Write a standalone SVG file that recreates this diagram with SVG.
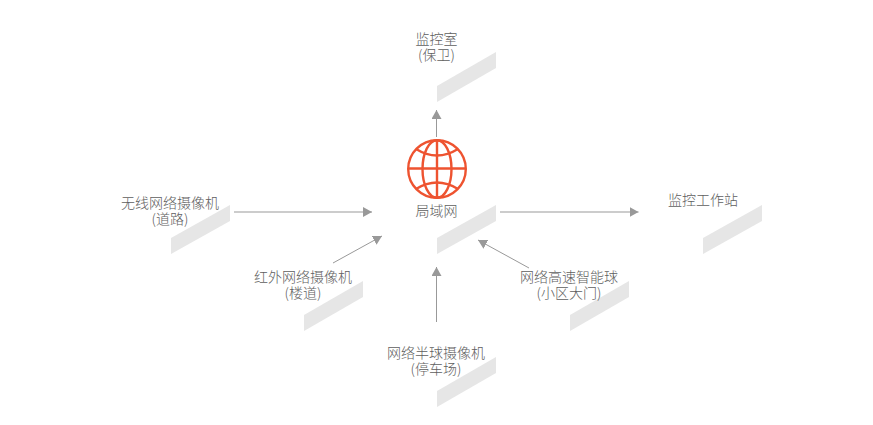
<svg xmlns="http://www.w3.org/2000/svg" width="873" height="425" viewBox="0 0 873 425">
<style>
text{font-family:"Noto Sans CJK SC","Liberation Sans",sans-serif;font-size:14px;font-weight:300;fill:#5e5e5e;text-anchor:middle}
.slab{fill:#e6e6e6}
.conn{stroke:#999;stroke-width:1;fill:none;marker-end:url(#arrow)}
.g{stroke:#ee5330;stroke-width:2.4;fill:none}
</style>
<defs>
<marker id="arrow" markerUnits="userSpaceOnUse" markerWidth="10" markerHeight="10" refX="9" refY="5" orient="auto"><path d="M0,0L9,5L0,10Z" fill="#999"/></marker>
</defs>
<rect width="873" height="425" fill="#fff"/>
<g id="connectors">
<path class="conn" d="M436.500 137V110"/>
<path class="conn" d="M234 212H372"/>
<path class="conn" d="M333 263L382 236"/>
<path class="conn" d="M500 212H638.500"/>
<path class="conn" d="M529 268L478 240"/>
<path class="conn" d="M436.500 322V267"/>
</g>
<g id="node-control-room">
<polygon class="slab" points="437,86 496,52 496,68 437,102"/>
<text x="436.500" y="44">监控室</text><text x="436.500" y="60">(保卫)</text>
</g>
<g id="node-lan">
<polygon class="slab" points="437,238 496,205 496,221 437,254"/>
<g class="g">
<circle cx="437" cy="169" r="28.800"/>
<ellipse cx="437" cy="169" rx="14.500" ry="28.800"/>
<path d="M437 140.200V197.800M408.200 168.500H465.800"/>
<path d="M416 149Q437 162 458 149"/>
<path d="M416 189Q437 176 458 189"/>
</g>
<text x="436.500" y="216">局域网</text>
</g>
<g id="node-wireless-camera">
<polygon class="slab" points="171,238 230,205 230,221 171,254"/>
<text x="170" y="208">无线网络摄像机</text><text x="170" y="224">(道路)</text>
</g>
<g id="node-infrared-camera">
<polygon class="slab" points="304,315 363,281 363,297 304,331"/>
<text x="303" y="282">红外网络摄像机</text><text x="303" y="298">(楼道)</text>
</g>
<g id="node-workstation">
<polygon class="slab" points="703,238 762,205 762,221 703,254"/>
<text x="703" y="205">监控工作站</text>
</g>
<g id="node-smart-dome">
<polygon class="slab" points="570,315 629,281 629,297 570,331"/>
<text x="569" y="282">网络高速智能球</text><text x="569" y="298">(小区大门)</text>
</g>
<g id="node-hemisphere-camera">
<polygon class="slab" points="437,391 496,357 496,373 437,407"/>
<text x="436" y="358">网络半球摄像机</text><text x="436" y="374">(停车场)</text>
</g>
</svg>
